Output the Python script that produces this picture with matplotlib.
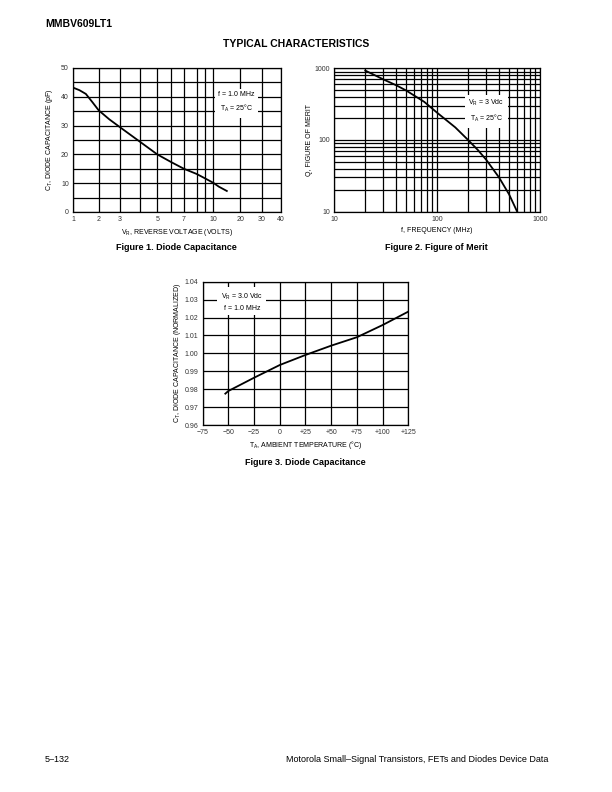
import numpy as np
import matplotlib
matplotlib.use('Agg')
import matplotlib.pyplot as plt

plt.rcParams['font.family'] = ['Liberation Sans', 'DejaVu Sans']
plt.rcParams['mathtext.fontset'] = 'custom'
plt.rcParams['mathtext.rm'] = 'Liberation Sans'
plt.rcParams['mathtext.it'] = 'Liberation Sans:italic'

# Figure 1 - capacitance vs reverse voltage
vr = [1, 1.25, 1.5, 1.75, 2, 2.5, 3, 4, 5, 6, 7, 8, 9, 10, 12, 15]
ct = [43.2, 42.3, 41.0, 38.2, 35.3, 32.2, 29.5, 24.5, 20.0, 17.3, 15.0, 13.2, 11.6, 10.1, 8.8, 7.3]
vr_ticks = [1, 2, 3, 4, 5, 6, 7, 8, 9, 10, 20, 30, 40]
vr_labels = ['1', '2', '3', '', '5', '', '7', '', '', '10', '20', '30', '40']

# Figure 2 - figure of merit vs frequency
freq = [20, 30, 40, 50, 75, 100, 150, 200, 250, 300, 400, 500, 600]
q = [930, 700, 580, 490, 340, 240, 150, 100, 72, 53, 30, 17.5, 10]

# Figure 3 - normalized capacitance vs temperature
temp = [-53, -50, -25, 0, 25, 50, 75, 100, 125]
ct_norm = [0.9775, 0.9790, 0.9864, 0.9935, 0.9991, 1.0043, 1.0090, 1.0158, 1.0233]
temp_ticks = [-75, -50, -25, 0, 25, 50, 75, 100, 125]
temp_labels = ['\u221275', '\u221250', '\u221225', '0', '+25', '+50', '+75', '+100', '+125']

# the printed voltage axis is not a true log scale; map grid lines to their positions
vr_pos = [0, 25.6, 46.6, 66.3, 84, 98, 110.6, 123.3, 132, 140, 166.6, 188, 207.3]


def fwd(v):
    return np.interp(v, vr_ticks, vr_pos)


def inv(p):
    return np.interp(p, vr_pos, vr_ticks)


fig = plt.figure(figsize=(6.12, 7.92), dpi=100)
fs = 5
lw = 0.9


def style(ax):
    for s in ax.spines.values():
        s.set_linewidth(lw)
    ax.tick_params(which='both', length=0, labelsize=fs, pad=3, labelcolor='#333333')
    ax.grid(True, which='both', color='black', linewidth=lw)
    ax.set_axisbelow(True)


box = dict(facecolor='white', edgecolor='none', pad=2.5)

# ---- Figure 1
ax1 = fig.add_axes([73/612, 1-212/792, 208/612, 144/792])
ax1.set_xscale('function', functions=(fwd, inv))
ax1.set_xlim(1, 40)
ax1.set_ylim(0, 50)
ax1.set_xticks(vr_ticks)
ax1.set_xticklabels(vr_labels)
ax1.set_yticks(np.arange(0, 51, 5))
ax1.set_yticklabels([str(v) if v % 10 == 0 else '' for v in range(0, 51, 5)])
ax1.xaxis.set_minor_locator(matplotlib.ticker.NullLocator())
style(ax1)
ax1.plot(vr, ct, color='black', lw=1.3)
ax1.text(0.785, 0.76, 'f = 1.0 MHz\nT$_{\\rm A}$ = 25\u00b0C', transform=ax1.transAxes,
         ha='center', va='center', fontsize=fs, linespacing=1.6, bbox=box)
ax1.set_xlabel('V$_{\\rm R}$, REVERSE VOLTAGE (VOLTS)', fontsize=fs, labelpad=3)
ax1.set_ylabel('C$_{\\rm T}$, DIODE CAPACITANCE (pF)', fontsize=fs, labelpad=4)

# ---- Figure 2
ax2 = fig.add_axes([334.3/612, 1-211.7/792, 205.7/612, 143.4/792])
ax2.set_xscale('log')
ax2.set_yscale('log')
ax2.set_xlim(10, 1000)
ax2.set_ylim(10, 1000)
ax2.set_xticks([10, 100, 1000])
ax2.set_xticklabels(['10', '100', '1000'])
ax2.set_yticks([10, 100, 1000])
ax2.set_yticklabels(['10', '100', '1000'])
ax2.xaxis.set_minor_formatter(matplotlib.ticker.NullFormatter())
ax2.yaxis.set_minor_formatter(matplotlib.ticker.NullFormatter())
style(ax2)
ax2.plot(freq, q, color='black', lw=1.3)
ax2.text(0.74, 0.70, 'V$_{\\rm R}$ = 3 Vdc\nT$_{\\rm A}$ = 25\u00b0C', transform=ax2.transAxes,
         ha='center', va='center', fontsize=fs, linespacing=1.6, bbox=box)
ax2.set_xlabel('f, FREQUENCY (MHz)', fontsize=fs, labelpad=3)
ax2.set_ylabel('Q, FIGURE OF MERIT', fontsize=fs, labelpad=1)

# ---- Figure 3
ax3 = fig.add_axes([202.7/612, 1-425/792, 205.6/612, 143.3/792])
ax3.set_xlim(-75, 125)
ax3.set_ylim(0.96, 1.04)
ax3.set_xticks(temp_ticks)
ax3.set_xticklabels(temp_labels)
ax3.set_yticks(np.arange(0.96, 1.0401, 0.01))
ax3.set_yticklabels(['%.2f' % v for v in np.arange(0.96, 1.0401, 0.01)])
style(ax3)
ax3.plot(temp, ct_norm, color='black', lw=1.3)
ax3.text(0.19, 0.86, 'V$_{\\rm R}$ = 3.0 Vdc\nf = 1.0 MHz', transform=ax3.transAxes,
         ha='center', va='center', fontsize=fs, linespacing=1.6, bbox=box)
ax3.set_xlabel('T$_{\\rm A}$, AMBIENT TEMPERATURE (\u00b0C)', fontsize=fs, labelpad=2)
ax3.set_ylabel('C$_{\\rm T}$, DIODE CAPACITANCE (NORMALIZED)', fontsize=fs, labelpad=1)

# ---- page text
fig.text(45/612, 1-24/792, 'MMBV609LT1', fontsize=7.5, fontweight='heavy', va='center')
fig.text(296/612, 1-44/792, 'TYPICAL CHARACTERISTICS', fontsize=7.5, fontweight='bold',
         ha='center', va='center')
fig.text(176/612, 1-248/792, 'Figure 1. Diode Capacitance', fontsize=6.5, fontweight='bold',
         ha='center', va='center')
fig.text(436/612, 1-248/792, 'Figure 2. Figure of Merit', fontsize=6.5, fontweight='bold',
         ha='center', va='center')
fig.text(305/612, 1-463/792, 'Figure 3. Diode Capacitance', fontsize=6.5, fontweight='bold',
         ha='center', va='center')
fig.text(45/612, 1-759/792, '5\u2013132', fontsize=6.5, va='center')
fig.text(548/612, 1-759/792, 'Motorola Small\u2013Signal Transistors, FETs and Diodes Device Data',
         fontsize=6.5, ha='right', va='center')

fig.savefig('out.png', dpi=100)
